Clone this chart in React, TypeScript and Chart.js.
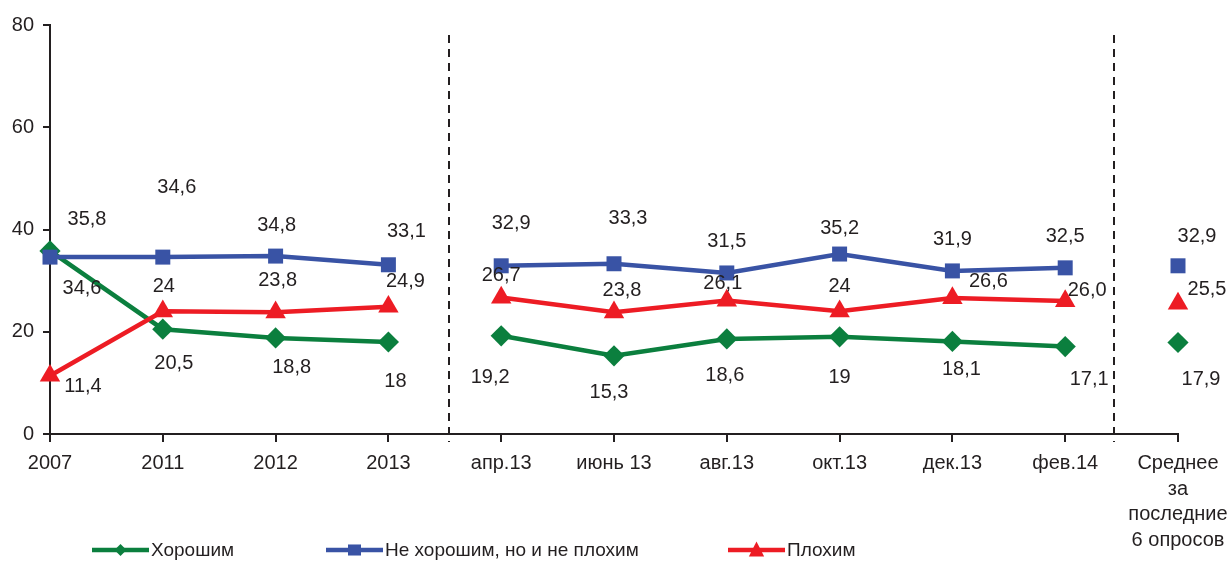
import { useEffect, useRef } from "react";
import { Chart, registerables } from "chart.js";

Chart.register(...registerables);

// ---- data ----
const categories: (string | string[])[] = [
  "2007", "2011", "2012", "2013",
  "апр.13", "июнь 13", "авг.13", "окт.13", "дек.13", "фев.14",
  ["Среднее", "за", "последние", "6 опросов"],
];
const goodValues = ["35,8", "20,5", "18,8", "18", "19,2", "15,3", "18,6", "19", "18,1", "17,1", "17,9"];
const neutralValues = ["34,6", "34,6", "34,8", "33,1", "32,9", "33,3", "31,5", "35,2", "31,9", "32,5", "32,9"];
const badValues = ["11,4", "24", "23,8", "24,9", "26,7", "23,8", "26,1", "24", "26,6", "26,0", "25,5"];
const seriesNames = ["Хорошим", "Не хорошим, но и не плохим", "Плохим"];
const yTicks = [0, 20, 40, 60, 80];
const breakAfter = [3, 9]; // line is interrupted after these category indices
const separatorsAt = [3.54, 9.435]; // dashed separators, in category units

// ---- styling / label placement (not data) ----
const COLORS = ["#0b7f3e", "#3953a5", "#ed1c24"];
const TEXT = "#231f20";
const FONT = '"Liberation Sans", Arial, Helvetica, sans-serif';
const labelOffsets: number[][][] = [
  [[37, -31], [11, 34], [16, 30], [7, 40], [-11, 42], [-5, 37], [-2, 37], [0, 41], [9, 28], [24, 33], [23, 37]],
  [[32, 31], [14, -70], [1, -31], [18, -33], [10, -42], [14, -45], [0, -31], [0, -26], [0, -31], [0, -31], [19, -29]],
  [[33, 11], [1, -25], [2, -32], [17, -25], [0, -22], [8, -22], [-4, -17], [0, -25], [36, -17], [22, -11], [29, -14]],
];
const legendStarts = [92, 326, 728];

const parse = (s: string) => parseFloat(s.replace(",", "."));
const labelSets = [goodValues, neutralValues, badValues];

function drawMarker(ctx: CanvasRenderingContext2D, kind: number, x: number, y: number, s: number) {
  ctx.beginPath();
  if (kind === 0) {
    ctx.moveTo(x, y - s);
    ctx.lineTo(x + s, y);
    ctx.lineTo(x, y + s);
    ctx.lineTo(x - s, y);
  } else if (kind === 1) {
    ctx.rect(x - s, y - s * 0.85, 2 * s, 1.7 * s);
  } else {
    ctx.moveTo(x, y - s);
    ctx.lineTo(x + s * 0.9, y + s * 0.75);
    ctx.lineTo(x - s * 0.9, y + s * 0.75);
  }
  ctx.closePath();
  ctx.fill();
}

const extrasPlugin = {
  id: "extras",
  beforeDatasetsDraw(chart: any) {
    const { ctx, chartArea, scales } = chart;
    ctx.save();
    ctx.strokeStyle = TEXT;
    ctx.lineWidth = 2;
    ctx.setLineDash([8, 6]);
    separatorsAt.forEach((v) => {
      const x = Math.round(scales.x.getPixelForValue(v));
      ctx.beginPath();
      ctx.moveTo(x, chartArea.top + 10);
      ctx.lineTo(x, chartArea.bottom + 8);
      ctx.stroke();
    });
    ctx.restore();
  },
  afterDatasetsDraw(chart: any) {
    const { ctx } = chart;
    ctx.save();
    ctx.fillStyle = TEXT;
    ctx.font = `20px ${FONT}`;
    ctx.textAlign = "center";
    ctx.textBaseline = "middle";
    chart.data.datasets.forEach((_: any, di: number) => {
      const meta = chart.getDatasetMeta(di);
      meta.data.forEach((pt: any, i: number) => {
        const [dx, dy] = labelOffsets[di][i];
        ctx.fillText(labelSets[di][i], pt.x + dx, pt.y + dy);
      });
    });
    // legend
    const ly = 550;
    ctx.font = `19px ${FONT}`;
    ctx.textAlign = "left";
    seriesNames.forEach((name, i) => {
      const x0 = legendStarts[i];
      ctx.strokeStyle = COLORS[i];
      ctx.fillStyle = COLORS[i];
      ctx.lineWidth = 4.5;
      ctx.beginPath();
      ctx.moveTo(x0, ly);
      ctx.lineTo(x0 + 57, ly);
      ctx.stroke();
      drawMarker(ctx, i, x0 + 28.5, ly, i === 0 ? 6 : i === 1 ? 6.5 : 8.5);
      ctx.fillStyle = TEXT;
      ctx.fillText(name, x0 + 59, ly + 1);
    });
    ctx.restore();
  },
};

export default function App() {
  const ref = useRef<HTMLCanvasElement>(null);

  useEffect(() => {
    const canvas = ref.current!;
    const pointStyles = ["rectRot", "rect", "triangle"];
    const radii = [10.6, 10.6, 11.8];
    const chart = new Chart(canvas, {
      type: "line",
      data: {
        labels: categories as any,
        datasets: labelSets.map((vals, i) => ({
          label: seriesNames[i],
          data: vals.map(parse),
          borderColor: COLORS[i],
          backgroundColor: COLORS[i],
          borderWidth: 4.5,
          pointStyle: pointStyles[i] as any,
          pointRadius: radii[i],
          pointHoverRadius: radii[i],
          pointBorderWidth: 0,
          pointBackgroundColor: COLORS[i],
          tension: 0,
          fill: false,
          clip: false as any,
          order: 3 - i,
          segment: {
            borderColor: (c: any) => (breakAfter.includes(c.p0DataIndex) ? "rgba(0,0,0,0)" : undefined),
          },
        })),
      },
      options: {
        responsive: false,
        animation: false,
        events: [],
        layout: { padding: { left: 0, top: 25, right: 52, bottom: 0 } },
        plugins: {
          legend: { display: false },
          tooltip: { enabled: false },
        },
        scales: {
          x: {
            type: "category",
            offset: false,
            grid: {
              drawOnChartArea: false,
              drawTicks: true,
              tickLength: 8,
              color: TEXT,
              lineWidth: 2,
            },
            border: { display: true, color: TEXT, width: 2 },
            ticks: {
              autoSkip: false,
              maxRotation: 0,
              minRotation: 0,
              padding: 9,
              color: TEXT,
              font: { family: FONT, size: 20, lineHeight: 1.275 },
            },
            afterFit: (s: any) => {
              s.height = 127;
              s.paddingLeft = 0;
              s.paddingRight = 0;
            },
          },
          y: {
            min: 0,
            max: 80,
            afterBuildTicks: (s: any) => {
              s.ticks = yTicks.map((v) => ({ value: v }));
            },
            grid: {
              drawOnChartArea: false,
              drawTicks: true,
              tickLength: 7,
              color: TEXT,
              lineWidth: 2,
            },
            border: { display: true, color: TEXT, width: 2 },
            ticks: {
              padding: 9,
              color: TEXT,
              font: { family: FONT, size: 20 },
            },
            afterFit: (s: any) => {
              s.width = 50;
              s.paddingTop = 0;
              s.paddingBottom = 0;
            },
          },
        },
      },
      plugins: [extrasPlugin],
    });
    return () => chart.destroy();
  }, []);

  return (
    <div style={{ position: "fixed", left: 0, top: 0, width: 1230, height: 561, background: "#fff" }}>
      <canvas ref={ref} width={1230} height={561} style={{ display: "block", width: 1230, height: 561 }} />
    </div>
  );
}
